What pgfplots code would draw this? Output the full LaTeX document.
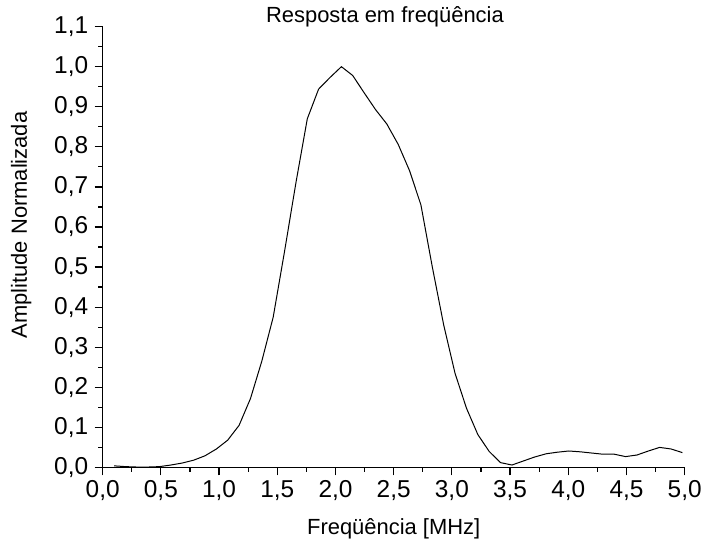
\documentclass[border=0pt]{standalone}
\usepackage{pgfplots}
\pgfplotsset{compat=1.18}
\usepackage{fontspec}
\setmainfont{Liberation Sans}
\begin{document}
\begin{tikzpicture}
\begin{axis}[
  at={(0,0)}, anchor=south west,
  scale only axis,
  width=584pt, height=442.3pt,
  xmin=0, xmax=5, ymin=0, ymax=1.1,
  axis lines*=left,
  axis line style={line width=1.3pt},
  xtick={0,0.5,...,5.01},
  ytick={0,0.1,...,1.11},
  minor x tick num=1,
  minor y tick num=1,
  tick align=outside,
  major tick length=8pt,
  minor tick length=4.5pt,
  every tick/.style={line width=1.2pt, black},
  /pgf/number format/assume math mode=true,
  /pgf/number format/use comma,
  /pgf/number format/fixed,
  /pgf/number format/fixed zerofill,
  /pgf/number format/precision=1,
  ticklabel style={font=\fontsize{24.5}{28}\selectfont},
  xticklabel style={yshift=-2pt},
  yticklabel style={xshift=-3pt},
  title={Resposta em freqüência},
  title style={font=\fontsize{22}{26}\selectfont, at={(axis description cs:0.485,1)}, anchor=base, yshift=-1.6pt},
  xlabel={Freqüência [MHz]},
  xlabel style={font=\fontsize{22}{26}\selectfont, at={(axis description cs:0.5,0)}, anchor=base, yshift=-67.7pt},
  ylabel={Amplitude Normalizada},
  ylabel style={font=\fontsize{22}{26}\selectfont, at={(axis description cs:-0.13,0.55)}, anchor=base},
  clip=false,
]
\addplot[black, line width=1pt] coordinates {
(0.098,0.004) (0.195,0.002) (0.293,0.001) (0.391,0.001) (0.488,0.002)
(0.586,0.006) (0.684,0.011) (0.781,0.018) (0.879,0.029) (0.977,0.046)
(1.074,0.068) (1.172,0.105) (1.270,0.172) (1.367,0.265) (1.465,0.375)
(1.563,0.540) (1.660,0.710) (1.758,0.870) (1.855,0.944) (1.953,0.973)
(2.051,1.000) (2.148,0.978) (2.246,0.935) (2.344,0.893) (2.441,0.857)
(2.539,0.806) (2.637,0.740) (2.734,0.655) (2.832,0.500) (2.930,0.355)
(3.027,0.235) (3.125,0.148) (3.223,0.082) (3.320,0.040) (3.418,0.012)
(3.516,0.006) (3.613,0.016) (3.711,0.026) (3.809,0.034) (3.906,0.038)
(4.004,0.041) (4.102,0.039) (4.199,0.036) (4.297,0.033) (4.395,0.033)
(4.492,0.027) (4.590,0.031) (4.688,0.041) (4.785,0.050) (4.883,0.046)
(4.980,0.037)
};
\end{axis}
\path[use as bounding box] (-103pt,-75pt) rectangle (602pt,469pt);
\end{tikzpicture}
\end{document}
